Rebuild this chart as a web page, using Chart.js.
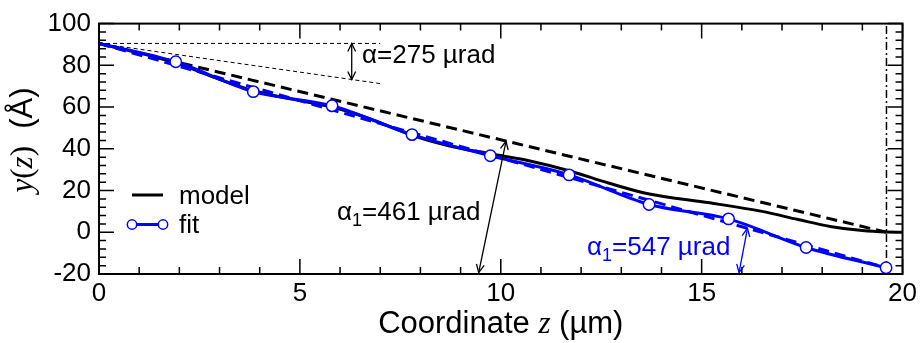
<!DOCTYPE html>
<html>
<head>
<meta charset="utf-8">
<script src="https://cdn.jsdelivr.net/npm/chart.js@4"></script>
<style>
  html, body { margin: 0; padding: 0; background: #fff; }
  #wrap { width: 921px; height: 343px; }
</style>
</head>
<body>
<div id="wrap"><canvas id="c" width="921" height="343"></canvas></div>
<script>
// --- data ---
const modelX = [0, 1.91, 2.9, 3.84, 4.8, 5.8, 6.8, 7.79, 8.7, 9.74, 10.7, 11.7, 12.7, 13.7, 15.2, 16.5, 17.4, 18.2, 19.0, 19.6, 20];
const modelY = [90.5, 81.2, 74, 67.8, 63.8, 60, 54, 46.5, 41.5, 37.6, 34.3, 29.5, 23.5, 18.3, 14.1, 10, 6.1, 2.8, 0.8, 0.1, 0];

const fitX = [1.91, 3.84, 5.80, 7.79, 9.74, 11.70, 13.69, 15.67, 17.60, 19.59];
const fitY = [81.7, 67.4, 60.6, 46.8, 36.7, 27.5, 13.3, 6.4, -7.3, -17.0];
const fitStart = [0, 90.5];

// straight reference lines [x0, y0, x1, y1]
const slopeModel = [0, 90.5, 19.6, 0];      // alpha1 = 461 urad
const slopeFit = [0, 90.5, 19.6, -17.1];    // alpha1 = 547 urad
const flatRef = [0, 90.5, 7, 90.5];
const slopeRef = [0, 90.5, 7, 71.25];       // alpha = 275 urad
const edgeZ = 19.6;

const xTicksMajor = [0, 5, 10, 15, 20];
const yTicksMajor = [-20, 0, 20, 40, 60, 80, 100];

const BLUE = '#0000ff';
const SANS = '"Liberation Sans", Arial, sans-serif';
const SERIF = '"Liberation Serif", "Times New Roman", serif';

const seg = a => [{x: a[0], y: a[1]}, {x: a[2], y: a[3]}];
const pts = (xs, ys) => xs.map((x, i) => ({x: x, y: ys[i]}));

function arrowHead(ctx, x0, y0, x1, y1, len) {
  const ang = Math.atan2(y1 - y0, x1 - x0);
  const a = Math.PI / 7;
  ctx.beginPath();
  ctx.moveTo(x1 - len * Math.cos(ang - a), y1 - len * Math.sin(ang - a));
  ctx.lineTo(x1, y1);
  ctx.lineTo(x1 - len * Math.cos(ang + a), y1 - len * Math.sin(ang + a));
  ctx.stroke();
}
function dblArrow(ctx, x0, y0, x1, y1, color) {
  ctx.save();
  ctx.strokeStyle = color;
  ctx.lineWidth = 1.3;
  ctx.beginPath(); ctx.moveTo(x0, y0); ctx.lineTo(x1, y1); ctx.stroke();
  arrowHead(ctx, x0, y0, x1, y1, 9);
  arrowHead(ctx, x1, y1, x0, y0, 9);
  ctx.restore();
}
// text made of pieces: [text, font, dy]
function pieces(ctx, x, y, parts, color) {
  ctx.fillStyle = color;
  ctx.textBaseline = 'alphabetic';
  ctx.textAlign = 'left';
  parts.forEach(p => {
    ctx.font = p[1];
    ctx.fillText(p[0], x, y + (p[2] || 0));
    x += ctx.measureText(p[0]).width;
  });
}
function piecesWidth(ctx, parts) {
  let w = 0;
  parts.forEach(p => { ctx.font = p[1]; w += ctx.measureText(p[0]).width; });
  return w;
}

const decor = {
  id: 'decor',
  afterDraw(chart) {
    const ctx = chart.ctx;
    const xs = chart.scales.x, ys = chart.scales.y;
    const a = chart.chartArea;
    const px = v => xs.getPixelForValue(v), py = v => ys.getPixelForValue(v);
    ctx.save();
    // frame
    ctx.strokeStyle = '#000';
    ctx.lineWidth = 2;
    ctx.strokeRect(a.left, a.top, a.right - a.left, a.bottom - a.top);
    // inward ticks
    ctx.lineWidth = 1.5;
    ctx.beginPath();
    for (let v = 0; v <= 20; v += 1) {
      const L = xTicksMajor.includes(v) ? 15 : 7;
      const x = px(v);
      ctx.moveTo(x, a.bottom); ctx.lineTo(x, a.bottom - L);
      ctx.moveTo(x, a.top); ctx.lineTo(x, a.top + L);
    }
    for (let v = -20; v <= 100; v += 4) {
      const L = yTicksMajor.includes(v) ? 15 : 7;
      const y = py(v);
      ctx.moveTo(a.left, y); ctx.lineTo(a.left + L, y);
      ctx.moveTo(a.right, y); ctx.lineTo(a.right - L, y);
    }
    ctx.stroke();

    // arrows
    dblArrow(ctx, px(6.29), py(90.5), px(6.29), py(73.2), '#000');
    dblArrow(ctx, px(9.45), py(-19.3), px(10.13), py(43.6), '#000');
    dblArrow(ctx, px(15.93), py(-19.3), px(16.14), py(1.9), BLUE);

    // annotations
    const f26 = '26px ' + SANS, f18 = '18px ' + SANS;
    pieces(ctx, 362, 63, [['α=275 µrad', f26]], '#000');
    pieces(ctx, 337, 220, [['α', f26], ['1', f18, 6], ['=461 µrad', f26]], '#000');
    pieces(ctx, 587, 255, [['α', f26], ['1', f18, 6], ['=547 µrad', f26]], BLUE);

    // legend
    ctx.lineWidth = 3;
    ctx.setLineDash([]);
    ctx.strokeStyle = '#000';
    ctx.beginPath(); ctx.moveTo(132, 195); ctx.lineTo(163, 195); ctx.stroke();
    ctx.strokeStyle = BLUE;
    ctx.beginPath(); ctx.moveTo(132, 224.5); ctx.lineTo(163, 224.5); ctx.stroke();
    ctx.lineWidth = 1.5;
    [132, 163].forEach(cx => {
      ctx.beginPath(); ctx.arc(cx, 224.5, 4.7, 0, Math.PI * 2);
      ctx.fillStyle = '#fff'; ctx.fill(); ctx.stroke();
    });
    pieces(ctx, 179, 204, [['model', f26]], '#000');
    pieces(ctx, 179, 233, [['fit', f26]], '#000');

    // axis titles
    const f31 = '31px ' + SANS, i31 = 'italic 31px ' + SERIF, s31 = '31px ' + SERIF;
    const xt = [['Coordinate ', f31], ['z', i31], [' (µm)', f31]];
    const xw = piecesWidth(ctx, xt);
    pieces(ctx, (a.left + a.right) / 2 - xw / 2, 333, xt, '#000');
    const yt = [['y', i31], ['(', s31], ['z', i31], [')', s31], ['  (Å)', f31]];
    const yw = piecesWidth(ctx, yt);
    ctx.translate(32, 140);
    ctx.rotate(-Math.PI / 2);
    pieces(ctx, -yw / 2, 0, yt, '#000');
    ctx.restore();
  }
};

const line = (data, color, width, dash, extra) => Object.assign({
  data: data, showLine: true, borderColor: color, backgroundColor: color,
  borderWidth: width, borderDash: dash, pointRadius: 0, fill: false
}, extra || {});

new Chart(document.getElementById('c'), {
  type: 'scatter',
  data: {
    datasets: [
      Object.assign(line(pts(fitX, fitY), BLUE, 1.5, []), {
        showLine: false, pointRadius: 5.7, pointBorderColor: BLUE,
        pointBackgroundColor: '#fff', pointBorderWidth: 1.5
      }),
      line(seg(slopeFit), BLUE, 3, [11, 6]),
      line([{x: fitStart[0], y: fitStart[1]}].concat(pts(fitX, fitY)), BLUE, 3, [], {cubicInterpolationMode: 'monotone'}),
      line(pts(modelX, modelY), '#000', 3, [], {cubicInterpolationMode: 'monotone'}),
      line(seg(slopeModel), '#000', 3, [11, 6]),
      line(seg(flatRef), '#000', 1, [4, 3]),
      line(seg(slopeRef), '#000', 1, [4, 3]),
      line([{x: edgeZ, y: -20}, {x: edgeZ, y: 100}], '#000', 1.5, [8, 3, 2, 3])
    ]
  },
  options: {
    responsive: false,
    animation: false,
    layout: { padding: { left: 0, right: 16, top: 12, bottom: 0 } },
    plugins: { legend: { display: false }, tooltip: { enabled: false } },
    scales: {
      x: {
        type: 'linear', min: 0, max: 20,
        ticks: { stepSize: 5, color: '#000', padding: 4, maxRotation: 0, font: { family: SANS, size: 26 } },
        grid: { display: false, drawTicks: false },
        border: { display: false },
        afterFit: s => { s.height = 69; }
      },
      y: {
        type: 'linear', min: -20, max: 100,
        ticks: { stepSize: 20, color: '#000', padding: 8, font: { family: SANS, size: 26 } },
        grid: { display: false, drawTicks: false },
        border: { display: false },
        afterFit: s => { s.width = 99; }
      }
    }
  },
  plugins: [decor]
});
</script>
</body>
</html>
